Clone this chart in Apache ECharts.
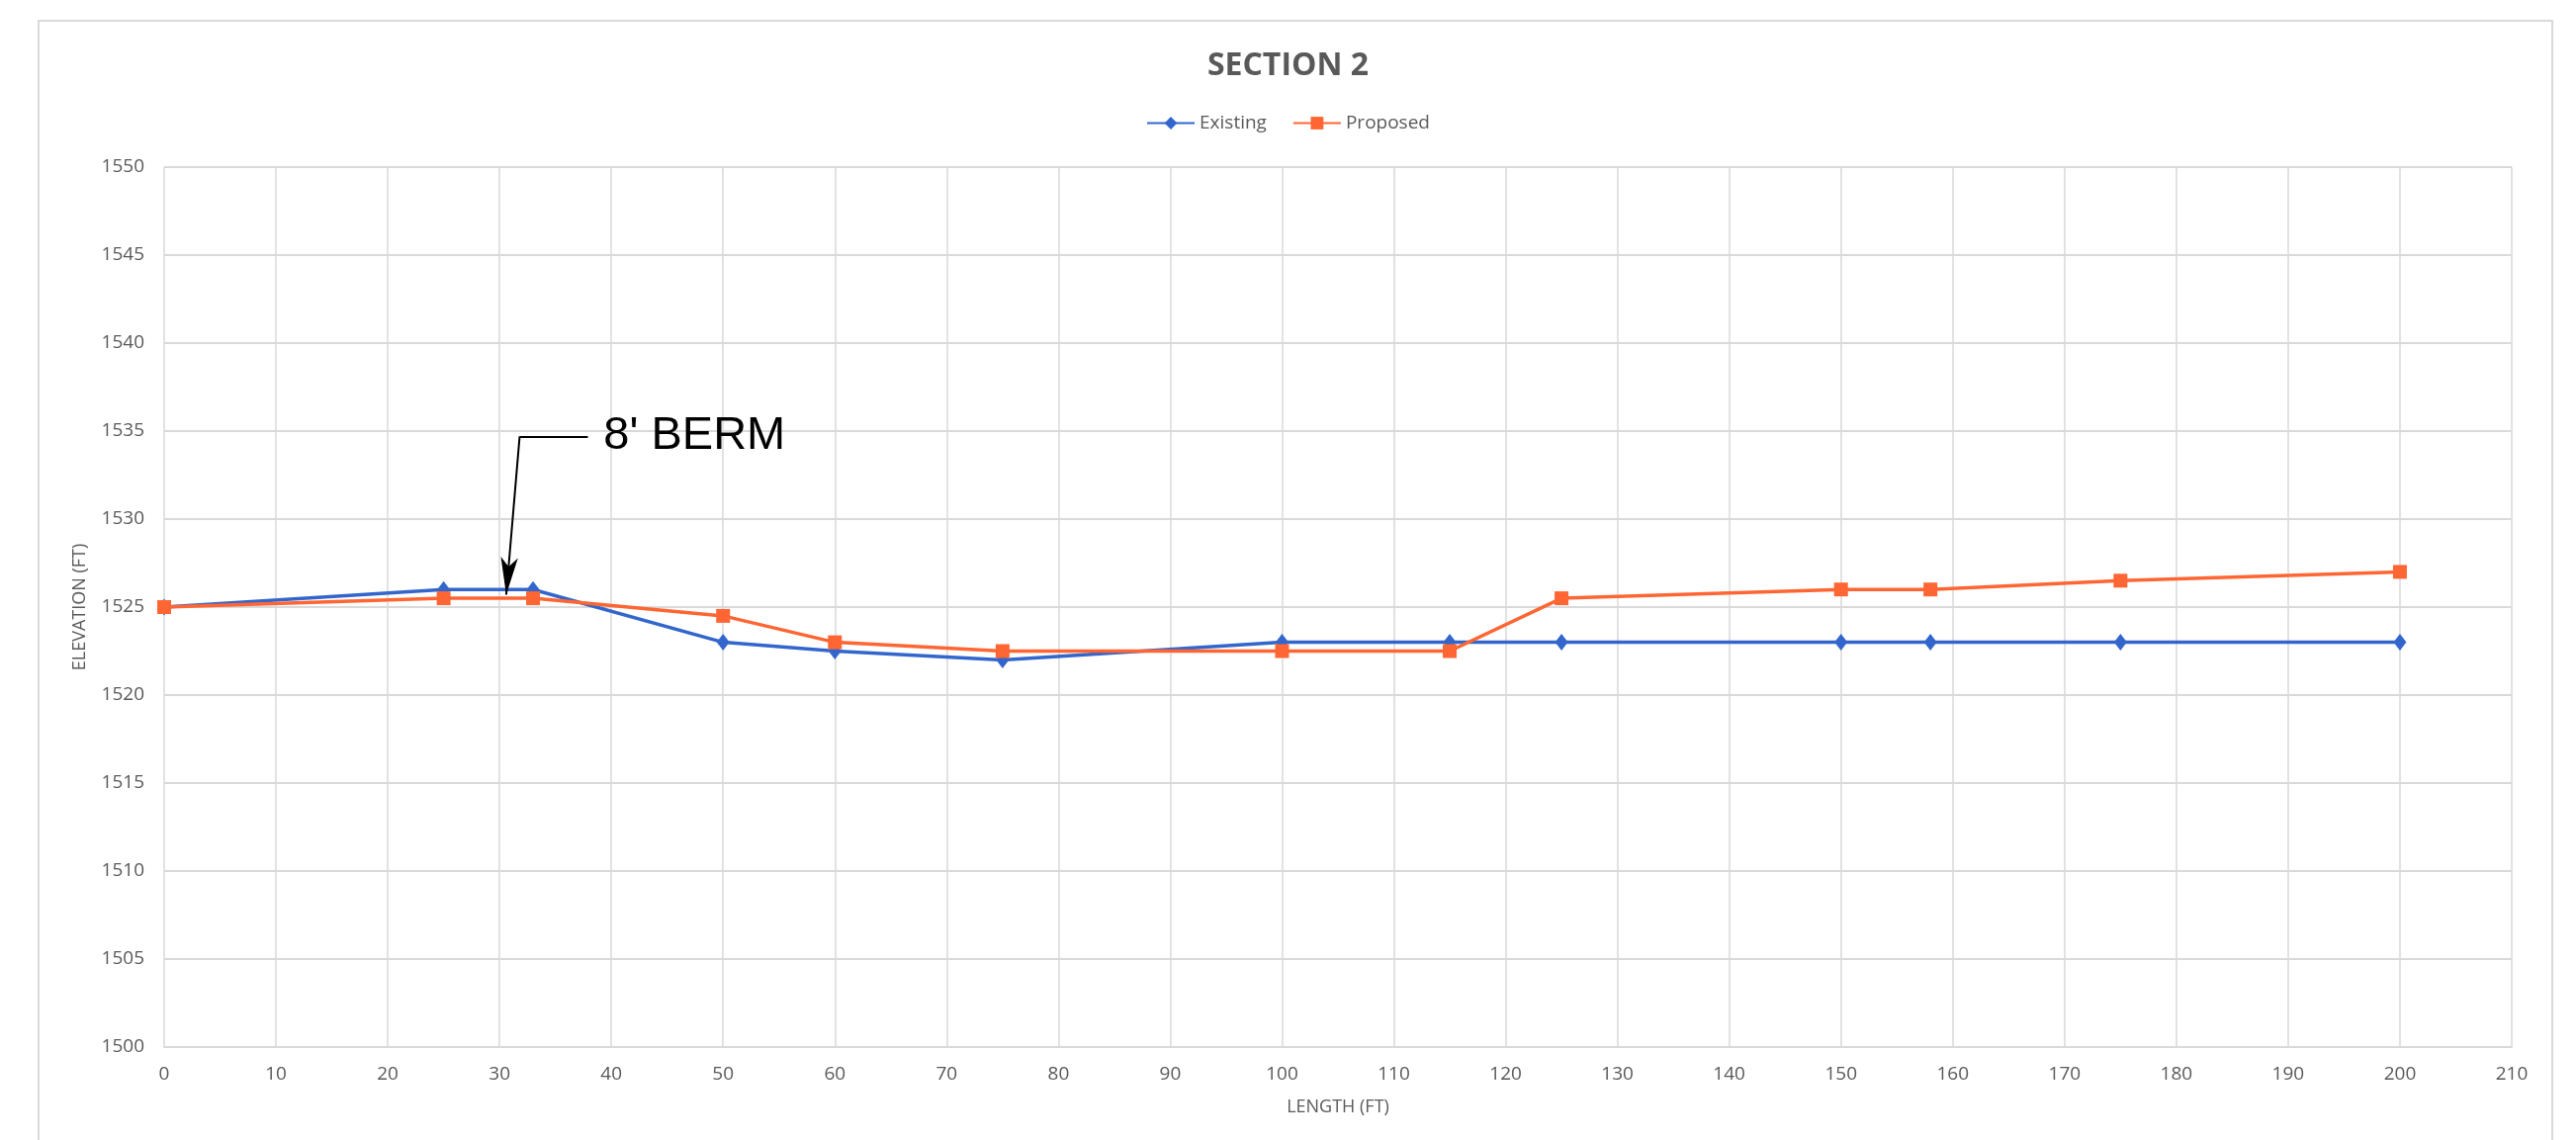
<!DOCTYPE html>
<html>
<head>
<meta charset="utf-8">
<script src="https://cdn.jsdelivr.net/npm/echarts@6/dist/echarts.min.js"></script>
<style>
html,body{margin:0;padding:0;background:#fff;}
#chart{width:2605px;height:1153px;}
</style>
</head>
<body>
<div id="chart"></div>
<script>
// Data
const lengthExisting = [0, 25, 33, 50, 60, 75, 100, 115, 125, 150, 158, 175, 200];
const elevExisting   = [1525, 1526, 1526, 1523, 1522.5, 1522, 1523, 1523, 1523, 1523, 1523, 1523, 1523];
const lengthProposed = [0, 25, 33, 50, 60, 75, 100, 115, 125, 150, 158, 175, 200];
const elevProposed   = [1525, 1525.5, 1525.5, 1524.5, 1523, 1522.5, 1522.5, 1522.5, 1525.5, 1526, 1526, 1526.5, 1527];
const seriesNames = ['Existing', 'Proposed'];
const titleText = 'SECTION 2';
const xName = 'LENGTH (FT)';
const yName = 'ELEVATION (FT)';
const bermText = "8' BERM";
const bermCorner = [31.8, 1534.7];
const bermTip = [30.6, 1525.7];
const bermLeaderEnd = [37.9, 1534.7];
const bermLabelAt = [39.3, 1534.7];

const pairs = (xs, ys) => xs.map((x, i) => [x, ys[i]]);

const FONT = "'Liberation Sans Narrow', 'Open Sans', sans-serif";
const GRAY = '#595959';
const GRID = '#d9d9d9';

const chart = echarts.init(document.getElementById('chart'));
chart.setOption({
  backgroundColor: '#fff',
  animation: false,
  title: {
    text: titleText,
    left: 'center',
    top: 46,
    textStyle: { fontFamily: "'Open Sans', sans-serif", fontWeight: 'bold', fontSize: 32, color: GRAY }
  },
  legend: {
    data: seriesNames,
    left: 'center',
    top: 110,
    itemWidth: 48,
    itemHeight: 16,
    itemGap: 26,
    textStyle: { fontFamily: FONT, fontSize: 19, color: GRAY }
  },
  graphic: [{
    type: 'rect',
    shape: { x: 39, y: 21, width: 2542, height: 1200 },
    style: { fill: 'none', stroke: GRID, lineWidth: 2 },
    silent: true
  }],
  grid: { left: 166, right: 65, top: 169, bottom: 94 },
  xAxis: {
    type: 'value', min: 0, max: 210, interval: 10,
    name: xName, nameLocation: 'middle', nameGap: 52,
    nameTextStyle: { fontFamily: FONT, fontSize: 18, color: GRAY },
    axisLine: { show: true, lineStyle: { color: GRID, width: 2 } },
    axisTick: { show: false },
    axisLabel: { fontFamily: FONT, fontSize: 19, color: GRAY, margin: 18 },
    splitLine: { show: true, lineStyle: { color: GRID, width: 1.5 } }
  },
  yAxis: {
    type: 'value', min: 1500, max: 1550, interval: 5,
    name: yName, nameLocation: 'middle', nameGap: 76, nameRotate: 90,
    nameTextStyle: { fontFamily: FONT, fontSize: 18, color: GRAY },
    axisLine: { show: false },
    axisTick: { show: false },
    axisLabel: { fontFamily: FONT, fontSize: 19, color: GRAY, margin: 20, formatter: v => String(v) },
    splitLine: { show: true, lineStyle: { color: GRID, width: 2 } }
  },
  series: [
    {
      name: seriesNames[0], type: 'line',
      data: pairs(lengthExisting, elevExisting),
      symbol: 'diamond', symbolSize: [13, 17],
      lineStyle: { color: '#3366CC', width: 3.5 },
      itemStyle: { color: '#3366CC' },
      z: 2
    },
    {
      name: seriesNames[1], type: 'line',
      data: pairs(lengthProposed, elevProposed),
      symbol: 'rect', symbolSize: 14,
      lineStyle: { color: '#FF6633', width: 3.5 },
      itemStyle: { color: '#FF6633' },
      z: 3,
      markLine: {
        silent: true,
        animation: false,
        lineStyle: { color: '#000', width: 2, type: 'solid' },
        label: { show: false },
        data: [
          [{ coord: bermLeaderEnd, symbol: 'none' }, { coord: bermCorner, symbol: 'none' }],
          [{ coord: bermCorner, symbol: 'none' }, { coord: bermTip, symbol: 'arrow', symbolSize: [13, 38] }]
        ]
      },
      markPoint: {
        silent: true,
        symbol: 'circle', symbolSize: 0,
        label: {
          show: true, position: 'right', distance: 0,
          formatter: bermText,
          fontFamily: "'Liberation Sans', Arial, sans-serif",
          fontSize: 47, color: '#000'
        },
        data: [{ coord: bermLabelAt }]
      }
    }
  ]
});
</script>
</body>
</html>
